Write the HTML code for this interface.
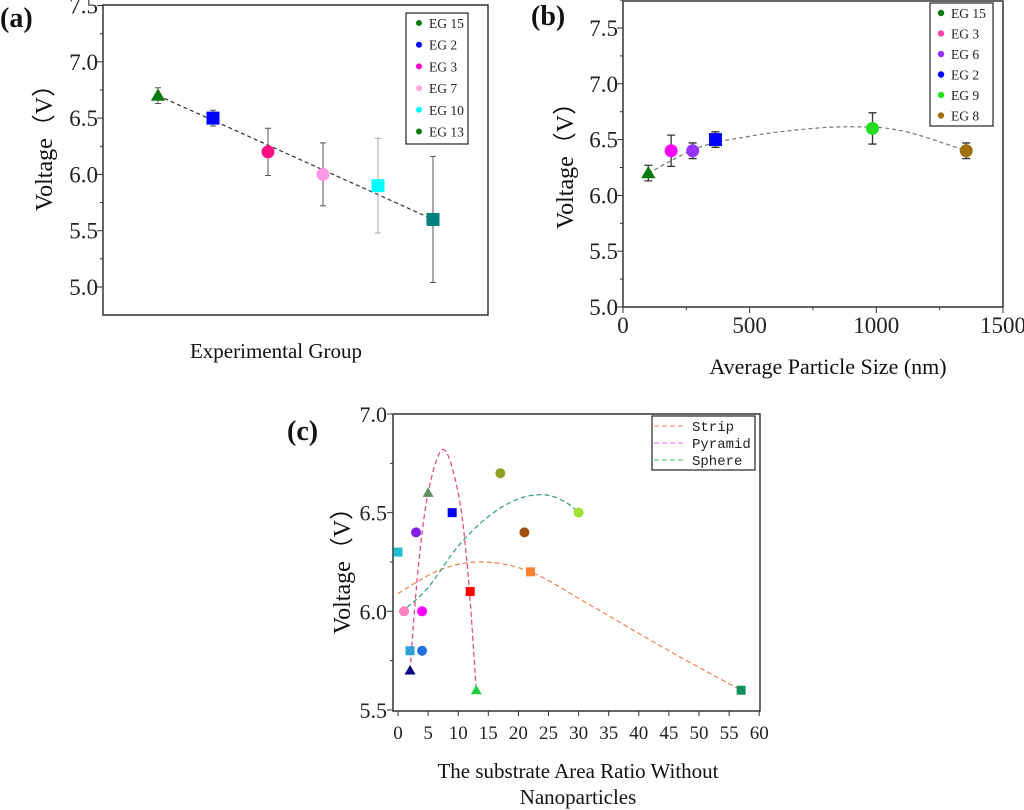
<!DOCTYPE html>
<html><head><meta charset="utf-8"><style>
body{margin:0;background:#fff;}
svg{display:block;font-family:"Liberation Serif",serif;}
</style></head><body>
<svg id="s" width="1024" height="810" viewBox="0 0 1024 810" xmlns="http://www.w3.org/2000/svg"></svg>
<script>
// ---- Panel (a) data ----
const aLabels=["EG 15","EG 2","EG 3","EG 7","EG 10","EG 13"];
const aValues=[6.7,6.5,6.2,6.0,5.9,5.6];
const aErrors=[0.07,0.07,0.21,0.28,0.42,0.56];
const aTicks=[5.0,5.5,6.0,6.5,7.0,7.5];
// ---- Panel (b) data ----
const bLabels=["EG 15","EG 3","EG 6","EG 2","EG 9","EG 8"];
const bSizes=[100,190,275,365,985,1355];
const bValues=[6.2,6.4,6.4,6.5,6.6,6.4];
const bErrors=[0.07,0.14,0.07,0.07,0.14,0.07];
const bFitX=[100,300,500,700,900,1100,1355];
const bFitY=[6.2,6.43,6.53,6.59,6.615,6.58,6.4];
const bYTicks=[5.0,5.5,6.0,6.5,7.0,7.5];
const bXTicks=[0,500,1000,1500];
// ---- Panel (c) data ----
const cX=[0,1,2,2,3,5,4,4,9,12,13,17,21,22,30,57];
const cY=[6.3,6.0,5.8,5.7,6.4,6.6,6.0,5.8,6.5,6.1,5.6,6.7,6.4,6.2,6.5,5.6];
const stripX=[0,7,14,22,32,45,57];
const stripY=[6.09,6.21,6.25,6.2,6.03,5.8,5.6];
const pyrX=[2,3.3,5,7.5,10,11.6,13];
const pyrY=[5.7,6.2,6.6,6.82,6.6,6.2,5.6];
const sphX=[1.5,5,10,15,20,24.5,28,30];
const sphY=[6.02,6.12,6.33,6.48,6.57,6.59,6.55,6.5];
const cYTicks=[5.5,6.0,6.5,7.0];
const cXTicks=[0,5,10,15,20,25,30,35,40,45,50,55,60];

const NS="http://www.w3.org/2000/svg";
const svg=document.getElementById('s');
function el(tag,attrs,parent,txt){const e=document.createElementNS(NS,tag);for(const k in attrs)e.setAttribute(k,attrs[k]);if(txt!==undefined)e.textContent=txt;(parent||svg).appendChild(e);return e;}
function marker(shape,x,y,r,fill,p){
  let m;
  if(shape==='tri')m=el('polygon',{points:`${x},${y-r*1.1} ${x-r*1.1},${y+r*0.8} ${x+r*1.1},${y+r*0.8}`,fill:fill},p);
  else if(shape==='sq')m=el('rect',{x:x-r,y:y-r,width:2*r,height:2*r,fill:fill},p);
  else m=el('circle',{cx:x,cy:y,r:r,fill:fill},p);
  return m;
}
function smooth(pts){let d=`M${pts[0][0]},${pts[0][1]}`;for(let i=0;i<pts.length-1;i++){const p0=pts[Math.max(0,i-1)],p1=pts[i],p2=pts[i+1],p3=pts[Math.min(pts.length-1,i+2)];d+=` C${p1[0]+(p2[0]-p0[0])/6},${p1[1]+(p2[1]-p0[1])/6} ${p2[0]-(p3[0]-p1[0])/6},${p2[1]-(p3[1]-p1[1])/6} ${p2[0]},${p2[1]}`;}return d;}

// ===== Panel A =====
(function(){
 const g=el('g',{});
 const L=103,T=5,R=488,B=315;
 const y=v=>287-(v-5.0)*112.6;
 const x=i=>158+i*55;
 el('rect',{x:L,y:T,width:R-L,height:B-T,fill:'none',stroke:'#333','stroke-width':1.5},g);
 aTicks.forEach(t=>{const yy=y(t);el('line',{x1:L-6,x2:L,y1:yy,y2:yy,stroke:'#333'},g);
   const tx=el('text',{x:98,y:yy+8,'text-anchor':'end','font-size':23,fill:'#222'},g,t.toFixed(1));
   if(t<7.5)el('line',{x1:L-3,x2:L,y1:y(t+0.25),y2:y(t+0.25),stroke:'#333'},g);});
 let t=el('text',{x:0,y:27,'font-size':28,'font-weight':'bold',fill:'#111'},g,'(a)');
 t=el('text',{transform:`translate(52,142) rotate(-90)`,'text-anchor':'middle','font-size':24,fill:'#111'},g,'Voltage（V）');
 t=el('text',{x:276,y:358,'text-anchor':'middle','font-size':21,fill:'#111'},g,'Experimental Group');
 const ln=el('line',{x1:x(0),y1:y(aValues[0]),x2:x(5),y2:y(aValues[5]),stroke:'#333','stroke-dasharray':'4,3','stroke-width':1.2},g);
 const cols=['#0a7a0a','#0000ff','#ff1080','#ff99e6','#00ffff','#008080'];
 const shp=['tri','sq','ci','ci','sq','sq'];
 aValues.forEach((v,i)=>{const eb=el('path',{d:`M${x(i)},${y(v+aErrors[i])}V${y(v-aErrors[i])}M${x(i)-3},${y(v+aErrors[i])}h6M${x(i)-3},${y(v-aErrors[i])}h6`,stroke:i==4?'#aaa':'#555',fill:'none'},g);
   const m=marker(shp[i],x(i),y(v),6.5,cols[i],g);});
 const lg=el('g',{},g);
 el('rect',{x:406,y:13,width:62,height:131,fill:'#fff',stroke:'#222','stroke-width':1.2},lg);
 const lc=['#0a7a0a','#0000ff','#ff00cc','#ffaadd','#00ffff','#0a7a0a'];
 aLabels.forEach((n,i)=>{const yy=23+i*21.7;el('circle',{cx:419,cy:yy,r:3,fill:lc[i]},lg);const tt=el('text',{x:429,y:yy+5,'font-size':13.5,fill:'#222'},lg,n);});
})();

// ===== Panel B =====
(function(){
 const g=el('g',{});
 const L=623,T=1,R=1003,B=307;
 const y=v=>307-(v-5.0)*111.6;
 const x=v=>623+v*0.2533;
 el('rect',{x:L,y:T,width:R-L,height:B-T,fill:'none',stroke:'#333','stroke-width':1.5},g);
 bYTicks.forEach(t=>{const yy=y(t);el('line',{x1:L-6,x2:L,y1:yy,y2:yy,stroke:'#333'},g);
   const tx=el('text',{x:618,y:yy+8,'text-anchor':'end','font-size':23,fill:'#222'},g,t.toFixed(1));
   el('line',{x1:L-3,x2:L,y1:y(t+0.25),y2:y(t+0.25),stroke:'#333'},g);});
 bXTicks.forEach(t=>{const xx=x(t);el('line',{x1:xx,x2:xx,y1:B,y2:B+6,stroke:'#333'},g);
   const tx=el('text',{x:xx,y:333,'text-anchor':'middle','font-size':23,fill:'#222'},g,String(t));
   if(t<1500)el('line',{x1:x(t+250),x2:x(t+250),y1:B,y2:B+3,stroke:'#333'},g);});
 let t=el('text',{x:531,y:25,'font-size':28,'font-weight':'bold',fill:'#111'},g,'(b)');
 t=el('text',{transform:`translate(573,160) rotate(-90)`,'text-anchor':'middle','font-size':24,fill:'#111'},g,'Voltage（V）');
 t=el('text',{x:828,y:374,'text-anchor':'middle','font-size':22,fill:'#111'},g,'Average Particle Size (nm)');
 const fp=el('path',{d:smooth(bFitX.map((v,i)=>[x(v),y(bFitY[i])])),fill:'none',stroke:'#777','stroke-dasharray':'4,3','stroke-width':1.2},g);
 const cols=['#0a7a0a','#ff00ff','#9933ff','#0000ff','#22dd22','#a07010'];
 const shp=['tri','ci','ci','sq','ci','ci'];
 bValues.forEach((v,i)=>{const xx=x(bSizes[i]);const eb=el('path',{d:`M${xx},${y(v+bErrors[i])}V${y(v-bErrors[i])}M${xx-4},${y(v+bErrors[i])}h8M${xx-4},${y(v-bErrors[i])}h8`,stroke:'#333',fill:'none','stroke-width':1.3},g);
   const m=marker(shp[i],xx,y(v),6.5,cols[i],g);});
 const lg=el('g',{},g);
 el('rect',{x:930,y:3,width:63,height:123,fill:'#fff',stroke:'#222','stroke-width':1.2},lg);
 const lc=['#0a7a0a','#ff44aa','#9933ff','#0000ff','#22dd22','#a07010'];
 bLabels.forEach((n,i)=>{const yy=13+i*20.5;el('circle',{cx:941,cy:yy,r:3.2,fill:lc[i]},lg);const tt=el('text',{x:951,y:yy+5,'font-size':13.5,fill:'#222'},lg,n);});
})();

// ===== Panel C =====
(function(){
 const g=el('g',{});
 const L=393,T=414,R=760,B=711;
 const y=v=>414+(7.0-v)*197.3;
 const x=v=>398+v*6.02;
 el('rect',{x:L,y:T,width:R-L,height:B-T,fill:'none',stroke:'#333','stroke-width':1.5},g);
 cYTicks.forEach(t=>{const yy=y(t);el('line',{x1:L-6,x2:L,y1:yy,y2:yy,stroke:'#333'},g);
   const tx=el('text',{x:387,y:yy+8,'text-anchor':'end','font-size':22,fill:'#222'},g,t.toFixed(1));
   if(t<7)el('line',{x1:L-3,x2:L,y1:y(t+0.25),y2:y(t+0.25),stroke:'#333'},g);});
 cXTicks.forEach(t=>{const xx=x(t);el('line',{x1:xx,x2:xx,y1:B,y2:B+5,stroke:'#333'},g);
   const tx=el('text',{x:xx,y:739,'text-anchor':'middle','font-size':19,fill:'#222'},g,String(t));});
 let t=el('text',{x:287,y:440,'font-size':28,'font-weight':'bold',fill:'#111'},g,'(c)');
 t=el('text',{transform:`translate(350,565) rotate(-90)`,'text-anchor':'middle','font-size':24,fill:'#111'},g,'Voltage（V）');
 t=el('text',{x:578,y:778,'text-anchor':'middle','font-size':21,fill:'#111'},g,'The substrate Area Ratio Without');
 t=el('text',{x:578,y:804,'text-anchor':'middle','font-size':21,fill:'#111'},g,'Nanoparticles');
 const curves=[[stripX,stripY,'#f08050','strip-curve'],[pyrX,pyrY,'#e8408a','pyramid-curve'],[sphX,sphY,'#30a070','sphere-curve']];
 curves.forEach(c=>{const p=el('path',{d:smooth(c[0].map((v,i)=>[x(v),y(c[1][i])])),fill:'none',stroke:c[2],'stroke-dasharray':'5,3','stroke-width':1.2},g);});
 const cols=['#20c0d0','#ff80c0','#30a0d8','#000080','#8020e0','#609060','#ff00ff','#2070e0','#0000ff','#ff0000','#20d040','#90a020','#a05010','#ff8030','#a0e030','#10905a'];
 const shp=['sq','ci','sq','tri','ci','tri','ci','ci','sq','sq','tri','ci','ci','sq','ci','sq'];
 cX.forEach((v,i)=>{const m=marker(shp[i],x(v),y(cY[i]),shp[i]=='sq'?4.5:5,cols[i],g);});
 const lg=el('g',{},g);
 el('rect',{x:652,y:416,width:103,height:54,fill:'#fff',stroke:'#222','stroke-width':1.2},lg);
 [['Strip','#f08050'],['Pyramid','#ee66ee'],['Sphere','#33cc55']].forEach((e,i)=>{const yy=426+i*17;el('line',{x1:654,x2:685,y1:yy,y2:yy,stroke:e[1],'stroke-dasharray':'5,3'},lg);const tt=el('text',{x:692,y:yy+5,'font-size':14,'font-family':'Liberation Mono, monospace',fill:'#222'},lg,e[0]);});
})();
</script>
</body></html>
